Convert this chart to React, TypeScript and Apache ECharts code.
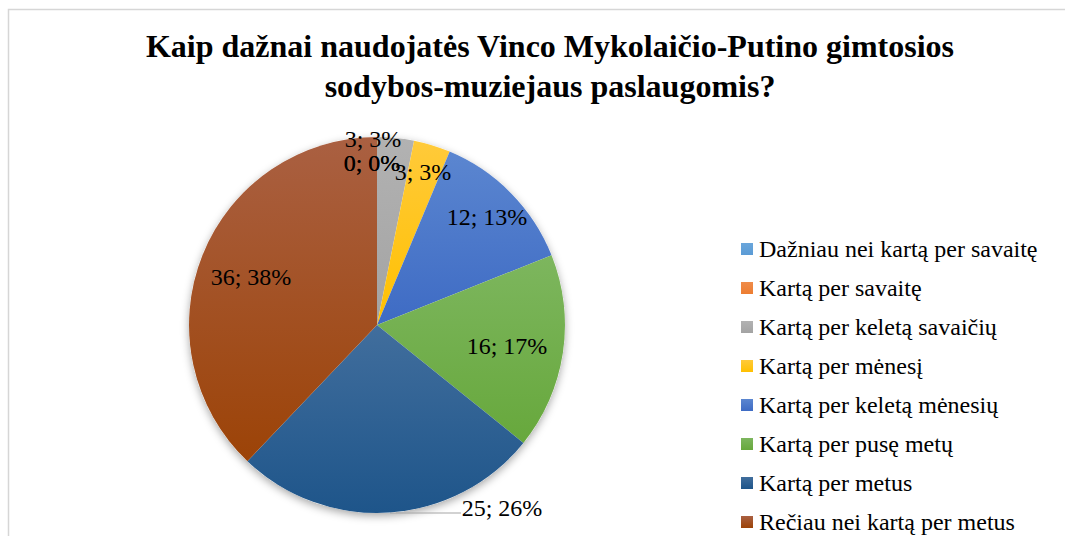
import React, { useEffect, useRef } from 'react';
import * as echarts from 'echarts';

const titleLines = [
  'Kaip dažnai naudojatės Vinco Mykolaičio-Putino gimtosios',
  'sodybos-muziejaus paslaugomis?',
];

const categories = [
  'Dažniau nei kartą per savaitę',
  'Kartą per savaitę',
  'Kartą per keletą savaičių',
  'Kartą per mėnesį',
  'Kartą per keletą mėnesių',
  'Kartą per pusę metų',
  'Kartą per metus',
  'Rečiau nei kartą per metus',
];

const values = [0, 0, 3, 3, 12, 16, 25, 36];

const colorTop = ['#6aa6db', '#ef8c4a', '#b2b2b2', '#ffca3a', '#5b86d0', '#7db65e', '#416e9d', '#aa6042'];
const colorBottom = ['#5b9bd5', '#ed7d31', '#a3a3a3', '#ffc000', '#3e6bc4', '#67a83c', '#1e558a', '#9c4307'];

// label anchor positions (centers) as placed in the original chart
const labelPos: Record<number, [number, number]> = {
  0: [372, 163],
  1: [372, 163],
  2: [373, 139],
  3: [423, 172],
  4: [487, 217],
  5: [507, 346],
  6: [502, 508],
  7: [251, 277],
};

const FONT = 'Liberation Serif';

export default function App() {
  const ref = useRef<HTMLDivElement>(null);

  useEffect(() => {
    if (!ref.current) return;
    const chart = echarts.init(ref.current, undefined, { renderer: 'svg' });

    const data = categories.map((name, i) => {
      const item: any = {
        name,
        value: values[i],
        itemStyle: {
          color: new echarts.graphic.LinearGradient(0, 0, 0, 1, [
            { offset: 0, color: colorTop[i] },
            { offset: 1, color: colorBottom[i] },
          ]),
        },
      };
      if (i === 6) {
        item.label = { position: 'outside' };
        item.labelLine = { show: true, length: 10, length2: 40, lineStyle: { color: '#a6a6a6', width: 1.2 } };
      }
      return item;
    });

    chart.setOption({
      animation: false,
      backgroundColor: '#ffffff',
      title: {
        text: titleLines.join('\n'),
        left: 545,
        top: 21,
        textAlign: 'center',
        textStyle: {
          fontFamily: FONT,
          fontSize: 32,
          fontWeight: 'bold',
          lineHeight: 40,
          color: '#000000',
        },
      },
      graphic: [
        {
          type: 'rect',
          shape: { x: 8.5, y: 9.5, width: 1200, height: 700 },
          style: { fill: 'none', stroke: '#d6d6d6', lineWidth: 1.5 },
          silent: true,
          z: -10,
        },
      ],
      legend: {
        data: categories,
        orient: 'vertical',
        left: 741,
        top: 237,
        icon: 'rect',
        itemWidth: 12,
        itemHeight: 12,
        itemGap: 15,
        padding: 0,
        textStyle: {
          fontFamily: FONT,
          fontSize: 24,
          lineHeight: 24,
          color: '#000000',
          padding: [0, 0, 0, 1],
        },
      },
      series: [
        {
          type: 'pie',
          name: 'main',
          center: [377, 325],
          radius: 188,
          startAngle: 90,
          clockwise: true,
          percentPrecision: 0,
          avoidLabelOverlap: false,
          z: 3,
          label: {
            show: true,
            position: 'inside',
            formatter: '{c}; {d}%',
            fontFamily: FONT,
            fontSize: 24,
            color: '#000000',
          },
          labelLine: { show: false },
          emphasis: { disabled: true },
          labelLayout: (params: any) => {
            const p = labelPos[params.dataIndex];
            if (!p) return {};
            const out: any = { x: p[0], y: p[1], align: 'center', verticalAlign: 'middle' };
            if (params.dataIndex === 6) {
              out.labelLinePoints = [
                [390, 513],
                [430, 513],
                [461, 513],
              ];
            }
            return out;
          },
          data,
        },
        {
          type: 'pie',
          name: 'shadow',
          center: [377, 325],
          radius: 188,
          silent: true,
          z: 1,
          label: { show: false },
          labelLine: { show: false },
          itemStyle: {
            color: '#ffffff',
            shadowBlur: 8,
            shadowOffsetY: 3,
            shadowColor: 'rgba(0,0,0,0.35)',
          },
          data: [{ name: '__shadow', value: 1 }],
        },
      ],
    });

    return () => chart.dispose();
  }, []);

  return (
    <div
      ref={ref}
      style={{ position: 'fixed', left: 0, top: 0, width: 1065, height: 536 }}
    />
  );
}
